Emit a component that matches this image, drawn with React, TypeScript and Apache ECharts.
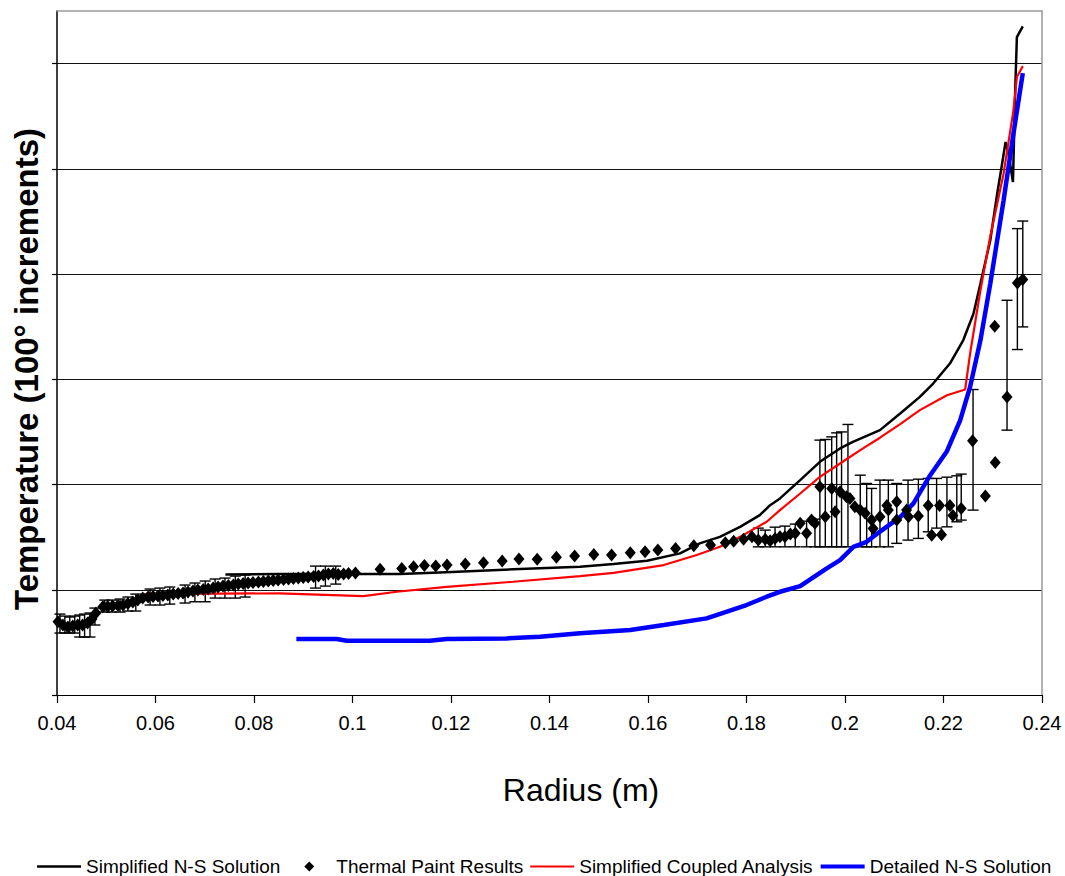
import React, { useEffect, useRef } from 'react';
import * as echarts from 'echarts';

const FONT = '"Liberation Sans", Arial, Helvetica, sans-serif';

// y-axis gridline / tick positions (100° increments, unlabelled)
const yGridValues = [0, 1, 2, 3, 4, 5, 6];

// Simplified N-S Solution (black)
const blackX = [0.0742, 0.0852, 0.1096, 0.1177, 0.1326, 0.1462, 0.153, 0.1598, 0.1665, 0.1705, 0.1746, 0.1787, 0.1827, 0.1848, 0.1868, 0.1909, 0.1949, 0.199, 0.2016, 0.2071, 0.2112, 0.2152, 0.2179, 0.2213, 0.224, 0.2261, 0.2275, 0.2295, 0.2309, 0.2319, 0.2326, 0.2332, 0.2341, 0.2346, 0.2349, 0.2361];
const blackY = [1.146, 1.149, 1.149, 1.165, 1.194, 1.218, 1.244, 1.275, 1.346, 1.441, 1.503, 1.598, 1.709, 1.804, 1.868, 2.042, 2.216, 2.343, 2.405, 2.517, 2.675, 2.833, 2.96, 3.15, 3.371, 3.625, 3.91, 4.321, 4.764, 5.049, 5.255, 5.144, 4.875, 5.809, 6.252, 6.353];

// Simplified Coupled Analysis (red)
const redX = [0.0572, 0.0852, 0.1022, 0.109, 0.1191, 0.1326, 0.1462, 0.153, 0.1632, 0.1699, 0.1746, 0.1787, 0.1841, 0.1868, 0.1909, 0.1949, 0.199, 0.2031, 0.2071, 0.2112, 0.2152, 0.2207, 0.2244, 0.2254, 0.2275, 0.2295, 0.2322, 0.2342, 0.2349, 0.2361];
const redY = [0.959, 0.966, 0.94, 0.981, 1.028, 1.076, 1.13, 1.161, 1.235, 1.33, 1.408, 1.503, 1.646, 1.757, 1.915, 2.073, 2.2, 2.327, 2.445, 2.574, 2.707, 2.849, 2.903, 3.245, 3.846, 4.359, 4.954, 5.556, 5.872, 5.976];

// Detailed N-S Solution (blue)
const blueX = [0.0886, 0.0968, 0.0988, 0.1157, 0.1191, 0.1313, 0.1381, 0.1462, 0.1564, 0.1632, 0.1719, 0.18, 0.1841, 0.1868, 0.1909, 0.1963, 0.199, 0.2017, 0.2044, 0.2071, 0.2112, 0.2139, 0.2173, 0.2207, 0.2234, 0.2254, 0.2275, 0.2295, 0.2322, 0.2342, 0.2361];
const blueY = [0.532, 0.532, 0.516, 0.516, 0.532, 0.538, 0.554, 0.586, 0.617, 0.665, 0.728, 0.855, 0.934, 0.981, 1.035, 1.203, 1.282, 1.408, 1.456, 1.553, 1.69, 1.821, 2.089, 2.317, 2.612, 2.928, 3.371, 3.91, 4.701, 5.334, 5.91];

// Thermal Paint Results (diamonds)
const paintX = [0.0402, 0.0412, 0.0422, 0.0432, 0.0442, 0.0452, 0.0462, 0.0471, 0.0479, 0.0493, 0.0503, 0.0513, 0.0524, 0.0534, 0.0544, 0.0554, 0.0564, 0.0574, 0.0585, 0.0595, 0.0605, 0.0615, 0.0625, 0.0636, 0.0646, 0.0656, 0.0666, 0.0676, 0.0686, 0.0697, 0.0707, 0.0717, 0.0727, 0.0737, 0.0748, 0.0758, 0.0768, 0.0778, 0.0788, 0.0798, 0.0809, 0.0819, 0.0829, 0.0839, 0.0849, 0.086, 0.087, 0.088, 0.089, 0.09, 0.091, 0.0921, 0.0931, 0.0941, 0.0951, 0.0961, 0.0971, 0.0982, 0.0992, 0.1006, 0.1056, 0.11, 0.1124, 0.1146, 0.1169, 0.1192, 0.1229, 0.1266, 0.1304, 0.1338, 0.1375, 0.1414, 0.1451, 0.149, 0.1526, 0.1564, 0.1594, 0.162, 0.1656, 0.1693, 0.1727, 0.1757, 0.1774, 0.1794, 0.1811, 0.1824, 0.1838, 0.1848, 0.1858, 0.1868, 0.1878, 0.1889, 0.1899, 0.1909, 0.1922, 0.1932, 0.1939, 0.1949, 0.196, 0.1973, 0.198, 0.199, 0.2003, 0.201, 0.202, 0.2031, 0.2041, 0.2054, 0.2057, 0.2071, 0.2085, 0.2088, 0.2105, 0.2105, 0.2125, 0.2129, 0.2149, 0.2169, 0.2176, 0.2192, 0.2196, 0.2213, 0.2219, 0.2236, 0.2259, 0.2285, 0.2305, 0.2304, 0.2329, 0.235, 0.2361];
const paintY = [0.696, 0.665, 0.646, 0.655, 0.665, 0.665, 0.684, 0.722, 0.779, 0.839, 0.84, 0.845, 0.85, 0.855, 0.869, 0.883, 0.902, 0.921, 0.931, 0.935, 0.94, 0.945, 0.95, 0.959, 0.964, 0.969, 0.978, 0.988, 0.997, 1.002, 1.007, 1.016, 1.026, 1.035, 1.04, 1.045, 1.054, 1.059, 1.064, 1.068, 1.073, 1.078, 1.083, 1.087, 1.092, 1.097, 1.102, 1.106, 1.111, 1.116, 1.121, 1.125, 1.13, 1.14, 1.149, 1.154, 1.144, 1.149, 1.154, 1.159, 1.194, 1.203, 1.218, 1.23, 1.225, 1.235, 1.244, 1.256, 1.273, 1.292, 1.289, 1.308, 1.32, 1.336, 1.33, 1.351, 1.361, 1.377, 1.393, 1.418, 1.425, 1.446, 1.462, 1.479, 1.503, 1.472, 1.479, 1.465, 1.488, 1.503, 1.503, 1.529, 1.536, 1.631, 1.536, 1.662, 1.631, 1.978, 1.693, 1.963, 1.741, 1.931, 1.883, 1.868, 1.788, 1.757, 1.726, 1.662, 1.583, 1.693, 1.8, 1.757, 1.836, 1.662, 1.757, 1.693, 1.7, 1.8, 1.519, 1.8, 1.524, 1.8, 1.705, 1.773, 2.415, 1.89, 2.21, 3.504, 2.833, 3.915, 3.948];

// Thermal paint error bars
const errX = [0.0406, 0.0416, 0.0426, 0.0436, 0.0446, 0.0456, 0.0467, 0.0477, 0.0497, 0.0511, 0.0528, 0.0544, 0.056, 0.0589, 0.0609, 0.0629, 0.066, 0.068, 0.0701, 0.0721, 0.0741, 0.0762, 0.0782, 0.0925, 0.0945, 0.0966, 0.1824, 0.1838, 0.1858, 0.1878, 0.1899, 0.1922, 0.1939, 0.1949, 0.196, 0.1973, 0.1983, 0.1993, 0.2006, 0.2031, 0.2044, 0.2054, 0.2071, 0.2088, 0.2105, 0.2128, 0.2149, 0.2169, 0.2186, 0.2207, 0.2227, 0.2236, 0.226, 0.2329, 0.235, 0.2361];
const errLow = [0.589, 0.589, 0.589, 0.589, 0.551, 0.551, 0.551, 0.665, 0.788, 0.788, 0.788, 0.798, 0.798, 0.855, 0.855, 0.864, 0.874, 0.886, 0.886, 0.921, 0.921, 0.921, 0.931, 1.016, 1.035, 1.054, 1.408, 1.408, 1.408, 1.408, 1.408, 1.408, 1.408, 1.408, 1.408, 1.408, 1.408, 1.408, 1.408, 1.408, 1.408, 1.408, 1.408, 1.408, 1.441, 1.472, 1.488, 1.551, 1.586, 1.598, 1.646, 1.662, 1.757, 2.517, 3.283, 3.498];
const errHigh = [0.769, 0.75, 0.741, 0.75, 0.76, 0.769, 0.779, 0.826, 0.902, 0.902, 0.912, 0.931, 0.959, 1.007, 1.016, 1.026, 1.045, 1.064, 1.083, 1.102, 1.111, 1.13, 1.14, 1.225, 1.225, 1.225, 1.586, 1.567, 1.595, 1.605, 1.624, 1.652, 1.671, 2.422, 2.428, 2.453, 2.491, 2.5, 2.571, 2.089, 2.01, 1.963, 2.042, 2.042, 2.01, 2.042, 2.051, 2.058, 2.058, 2.07, 2.083, 2.099, 2.903, 3.751, 4.432, 4.504];

const pairs = (xs: number[], ys: number[]) => xs.map((x, i) => [x, ys[i]]);

export default function App() {
  const ref = useRef<HTMLDivElement>(null);

  useEffect(() => {
    if (!ref.current) return;
    const chart = echarts.init(ref.current, undefined, { renderer: 'svg' });

    const renderErrorBar = (params: any, api: any) => {
      const x = api.value(0);
      const lo = api.coord([x, api.value(1)]);
      const hi = api.coord([x, api.value(2)]);
      const w = 5.5;
      const style = { stroke: '#000', lineWidth: 1.4, fill: 'none' };
      return {
        type: 'group',
        children: [
          { type: 'line', shape: { x1: lo[0], y1: lo[1], x2: hi[0], y2: hi[1] }, style },
          { type: 'line', shape: { x1: lo[0] - w, y1: lo[1], x2: lo[0] + w, y2: lo[1] }, style },
          { type: 'line', shape: { x1: hi[0] - w, y1: hi[1], x2: hi[0] + w, y2: hi[1] }, style },
        ],
      };
    };

    const option: any = {
      animation: false,
      backgroundColor: '#ffffff',
      grid: { left: 57, right: 23, top: 11, bottom: 181, containLabel: false, outerBoundsMode: 'none' },
      xAxis: [
        {
          type: 'value', min: 0.04, max: 0.24, interval: 0.02, position: 'bottom',
          axisLine: { show: true, onZero: false, lineStyle: { color: '#000', width: 1.2 } },
          axisTick: { show: true, inside: false, length: 8, lineStyle: { color: '#000', width: 1.2 } },
          axisLabel: {
            show: true, margin: 18, color: '#000', fontSize: 20, fontFamily: FONT,
            formatter: (v: number) => String(parseFloat(Number(v).toFixed(2))),
          },
          splitLine: { show: false },
        },
        {
          type: 'value', min: 0.04, max: 0.24, position: 'top',
          axisLine: { show: true, onZero: false, lineStyle: { color: '#999', width: 1.5 } },
          axisTick: { show: false }, axisLabel: { show: false }, splitLine: { show: false },
        },
      ],
      yAxis: [
        {
          type: 'value', min: 0, max: 6.5, interval: 1, position: 'left',
          axisLine: { show: true, onZero: false, lineStyle: { color: '#000', width: 1.5 } },
          axisTick: { show: true, inside: false, length: 5, customValues: yGridValues, lineStyle: { color: '#000', width: 1.2 } },
          axisLabel: { show: false },
          splitLine: {
            show: true,
            lineStyle: { color: ['#000', '#111', '#111', '#111', '#111', '#111', '#111', '#999'], width: 1 },
          },
        },
        {
          type: 'value', min: 0, max: 6.5, position: 'right',
          axisLine: { show: true, onZero: false, lineStyle: { color: '#999', width: 1.5 } },
          axisTick: { show: false }, axisLabel: { show: false }, splitLine: { show: false },
        },
      ],
      legend: {
        left: 37, top: 857, padding: 0, itemGap: 7, itemWidth: 44, itemHeight: 10,
        selectedMode: false,
        itemStyle: { borderWidth: 0, opacity: 1 },
        textStyle: { color: '#000', fontSize: 19, fontFamily: FONT },
        data: [
          { name: 'Simplified N-S Solution', icon: 'path://M0,0L44,0L44,2.5L0,2.5Z' },
          { name: 'Thermal Paint Results', icon: 'path://M0,5L0.01,5L0,5.01Z M22,0L27,5L22,10L17,5Z M44,5L43.99,5L44,5.01Z' },
          { name: 'Simplified Coupled Analysis', icon: 'path://M0,0L44,0L44,2.2L0,2.2Z' },
          { name: 'Detailed N-S Solution', icon: 'path://M0,0L44,0L44,4L0,4Z' },
        ],
      },
      graphic: [
        {
          type: 'text', x: 581, y: 790, z: 10,
          style: {
            text: 'Radius (m)', fill: '#000', fontSize: 32, fontFamily: FONT,
            align: 'center', verticalAlign: 'middle', textAlign: 'center', textVerticalAlign: 'middle',
          },
        },
        {
          type: 'text', x: 26, y: 369, rotation: Math.PI / 2, z: 10,
          style: {
            text: 'Temperature (100° increments)', fill: '#000', fontSize: 33, fontWeight: 'bold', fontFamily: FONT,
            align: 'center', verticalAlign: 'middle', textAlign: 'center', textVerticalAlign: 'middle',
          },
        },
      ],
      series: [
        {
          name: 'Simplified N-S Solution', type: 'line', color: '#000000',
          data: pairs(blackX, blackY), symbol: 'none', smooth: false,
          lineStyle: { color: '#000000', width: 2.5 }, z: 2,
        },
        {
          name: 'Error bars', type: 'custom', silent: true,
          data: errX.map((x, i) => [x, errLow[i], errHigh[i]]),
          renderItem: renderErrorBar, encode: { x: 0, y: [1, 2] }, z: 3,
        },
        {
          name: 'Simplified Coupled Analysis', type: 'line', color: '#ff0000',
          data: pairs(redX, redY), symbol: 'none', smooth: false,
          lineStyle: { color: '#ff0000', width: 2.2 }, z: 4,
        },
        {
          name: 'Detailed N-S Solution', type: 'line', color: '#0000ff',
          data: pairs(blueX, blueY), symbol: 'none', smooth: false,
          lineStyle: { color: '#0000ff', width: 4.5 }, z: 5,
        },
        {
          name: 'Thermal Paint Results', type: 'scatter', color: '#000000',
          data: pairs(paintX, paintY), symbol: 'diamond', symbolSize: [11, 13],
          itemStyle: { color: '#000000', opacity: 1 }, z: 6,
        },
      ],
    };

    chart.setOption(option);
    return () => chart.dispose();
  }, []);

  return (
    <div
      ref={ref}
      style={{ position: 'absolute', left: 0, top: 0, width: 1065, height: 876, background: '#fff' }}
    />
  );
}
